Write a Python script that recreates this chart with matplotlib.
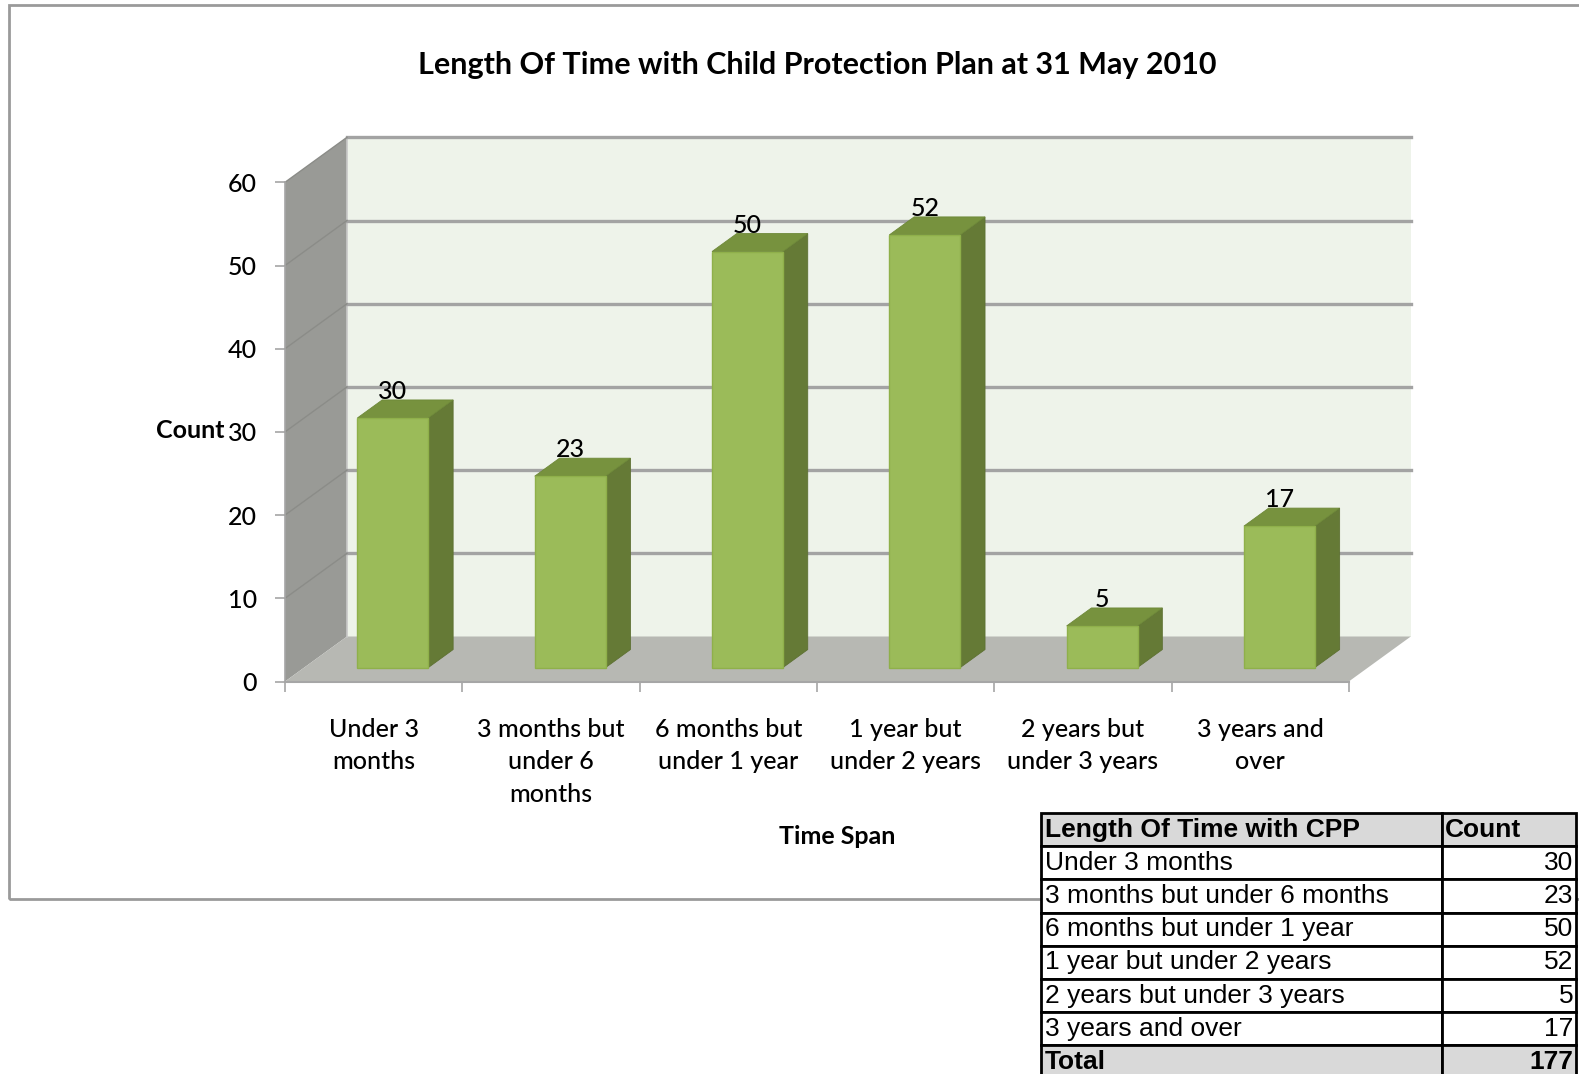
#!/usr/bin/env python3
"""
Length of time with child protection plan - Excel style 3D column chart
"""
import matplotlib
matplotlib.use('Agg')
import matplotlib.pyplot as plt
from matplotlib.patches import Polygon, Rectangle

categories = ['Under 3\nmonths', '3 months but\nunder 6\nmonths', '6 months but\nunder 1 year',
              '1 year but\nunder 2 years', '2 years but\nunder 3 years', '3 years and\nover']
table_rows = ['Under 3 months', '3 months but under 6 months', '6 months but under 1 year',
              '1 year but under 2 years', '2 years but under 3 years', '3 years and over']
counts = [30, 23, 50, 52, 5, 17]
y_ticks = [0, 10, 20, 30, 40, 50, 60]

W, H = 1579, 1074
fig = plt.figure(figsize=(W / 100, H / 100), dpi=100)
ax = fig.add_axes([0, 0, 1, 1])

# pixel mapping of the front plane: x=0 -> 285px, 1 category = 177.3px; y=0 -> 681.5px, 1 unit = 8.32px
x0, sx = 285, 177.3
y0, sy = 681.5, 8.32
ax.set_xlim(-x0 / sx, (W - x0) / sx)
ax.set_ylim((y0 - H) / sy, y0 / sy)

# depth vector of the oblique projection (data units)
DX, DY = 62 / sx, 45 / sy
n = len(counts)
ymax = 60

wall_c = '#999a96'
floor_c = '#b7b8b3'
back_c = '#eef3ea'
grid_c = '#a3a3a3'
font = 'Lato'

# chart area border
ax.add_patch(Rectangle((9 / W, 1 - 899 / H), 1.2, (899 - 5) / H, transform=ax.transAxes,
                       fill=False, edgecolor='#9a9a9a', lw=2, zorder=0))

# walls and floor
ax.add_patch(Polygon([(DX, DY), (n + DX, DY), (n + DX, ymax + DY), (DX, ymax + DY)],
                     closed=True, facecolor=back_c, edgecolor='none', zorder=1))
ax.add_patch(Polygon([(0, 0), (0, ymax), (DX, ymax + DY), (DX, DY)],
                     closed=True, facecolor=wall_c, edgecolor='none', zorder=1))
ax.add_patch(Polygon([(0, 0), (n, 0), (n + DX, DY), (DX, DY)],
                     closed=True, facecolor=floor_c, edgecolor='none', zorder=1))
ax.plot([DX, DX], [DY, ymax + DY], color='#c8c8c8', lw=1.2, zorder=2)

for t in y_ticks[1:]:
    ax.plot([DX, n + DX], [t + DY, t + DY], color=grid_c, lw=2.4, zorder=2)
    ax.plot([0, DX], [t, t + DY], color='#8b8c88', lw=1.0, zorder=2)

# bars
bw = 0.4
d0, d1 = 0.31, 0.71
front_c, side_c, top_c = '#9bbb59', '#657a36', '#77923e'
for i, v in enumerate(counts):
    xl = i + 0.5 - bw / 2 + d0 * DX
    xr = xl + bw
    yb = d0 * DY
    yt = yb + v
    ddx, ddy = (d1 - d0) * DX, (d1 - d0) * DY
    ax.add_patch(Polygon([(xr, yb), (xr + ddx, yb + ddy), (xr + ddx, yt + ddy), (xr, yt)],
                         closed=True, facecolor=side_c, edgecolor='#5d7032', lw=0.6, zorder=3))
    ax.add_patch(Polygon([(xl, yt), (xr, yt), (xr + ddx, yt + ddy), (xl + ddx, yt + ddy)],
                         closed=True, facecolor=top_c, edgecolor='#6d8838', lw=0.6, zorder=3))
    ax.add_patch(Rectangle((xl, yb), bw, v, facecolor=front_c, edgecolor='#8fb04a',
                           lw=1.0, zorder=4))
    ax.text((xl + xr) / 2, yt + ddy + 1.0, str(v), ha='center', va='center',
            fontsize=18, fontfamily=font, fontweight='medium', color='black', zorder=5)

# axes lines, ticks, labels
for s in ['top', 'right']:
    ax.spines[s].set_visible(False)
ax.spines['left'].set_position(('data', 0))
ax.spines['left'].set_bounds(0, ymax)
ax.spines['left'].set_color('#a6a6a6')
ax.spines['left'].set_linewidth(1.2)
ax.spines['left'].set_zorder(2)
ax.spines['bottom'].set_position(('data', 0))
ax.spines['bottom'].set_bounds(0, n)
ax.spines['bottom'].set_color('#a6a6a6')
ax.spines['bottom'].set_linewidth(1.5)

ax.set_yticks(y_ticks)
ax.set_yticklabels([str(t) for t in y_ticks], fontsize=18, fontfamily=font, fontweight='medium')
ax.tick_params(axis='y', length=7, width=1.2, color='#a6a6a6', pad=13)

ax.set_xticks(range(n + 1))
ax.set_xticklabels([])
ax.tick_params(axis='x', which='major', length=7, width=1.2, color='#a6a6a6')
ax.set_xticks([i + 0.5 for i in range(n)], minor=True)
ax.set_xticklabels(categories, minor=True, fontsize=18, fontfamily=font,
                   fontweight='medium', linespacing=1.52)
ax.tick_params(axis='x', which='minor', length=0, pad=26)

ax.set_ylabel('Count', rotation=0, ha='right', va='center', fontsize=18,
              fontweight='bold', fontfamily=font)
ax.yaxis.set_label_coords(224 / W, 1 - 430 / H)
ax.set_xlabel('Time Span', fontsize=18, fontweight='bold', fontfamily=font)
ax.xaxis.set_label_coords(837 / W, 1 - 836 / H)
ax.xaxis.label.set_va('center')

ax.text(817 / W, 1 - 65 / H, 'Length Of Time with Child Protection Plan at 31 May 2010',
        transform=ax.transAxes, ha='center', va='center', fontsize=22,
        fontweight='bold', fontfamily=font)

# data table
cell_text = [['Length Of Time with CPP', 'Count']]
cell_text += [[r, str(c)] for r, c in zip(table_rows, counts)]
cell_text += [['Total', str(sum(counts))]]
tl, tr, tt = 1041, 1576, 813
row_h = 33.2
th = row_h * len(cell_text)
tbl = ax.table(cellText=cell_text, colWidths=[0.75, 0.25], cellLoc='left',
               bbox=[tl / W, 1 - (tt + th) / H, (tr - tl) / W, th / H], zorder=6)
tbl.auto_set_font_size(False)
tbl.set_fontsize(19)
last = len(cell_text) - 1
for (r, c), cell in tbl.get_celld().items():
    cell.set_edgecolor('black')
    cell.set_linewidth(2)
    cell.set_facecolor('#d9d9d9' if r in (0, last) else 'white')
    cell.PAD = 0.01 if c == 0 else 0.02
    txt = cell.get_text()
    txt.set_fontfamily('Liberation Sans')
    if r in (0, last):
        txt.set_fontweight('bold')
    if c == 1 and r != 0:
        txt.set_ha('right')
        cell._loc = 'right'
    else:
        txt.set_ha('left')
        cell._loc = 'left'

plt.savefig('out.png', dpi=100)
plt.close()
print("Created: out.png")
